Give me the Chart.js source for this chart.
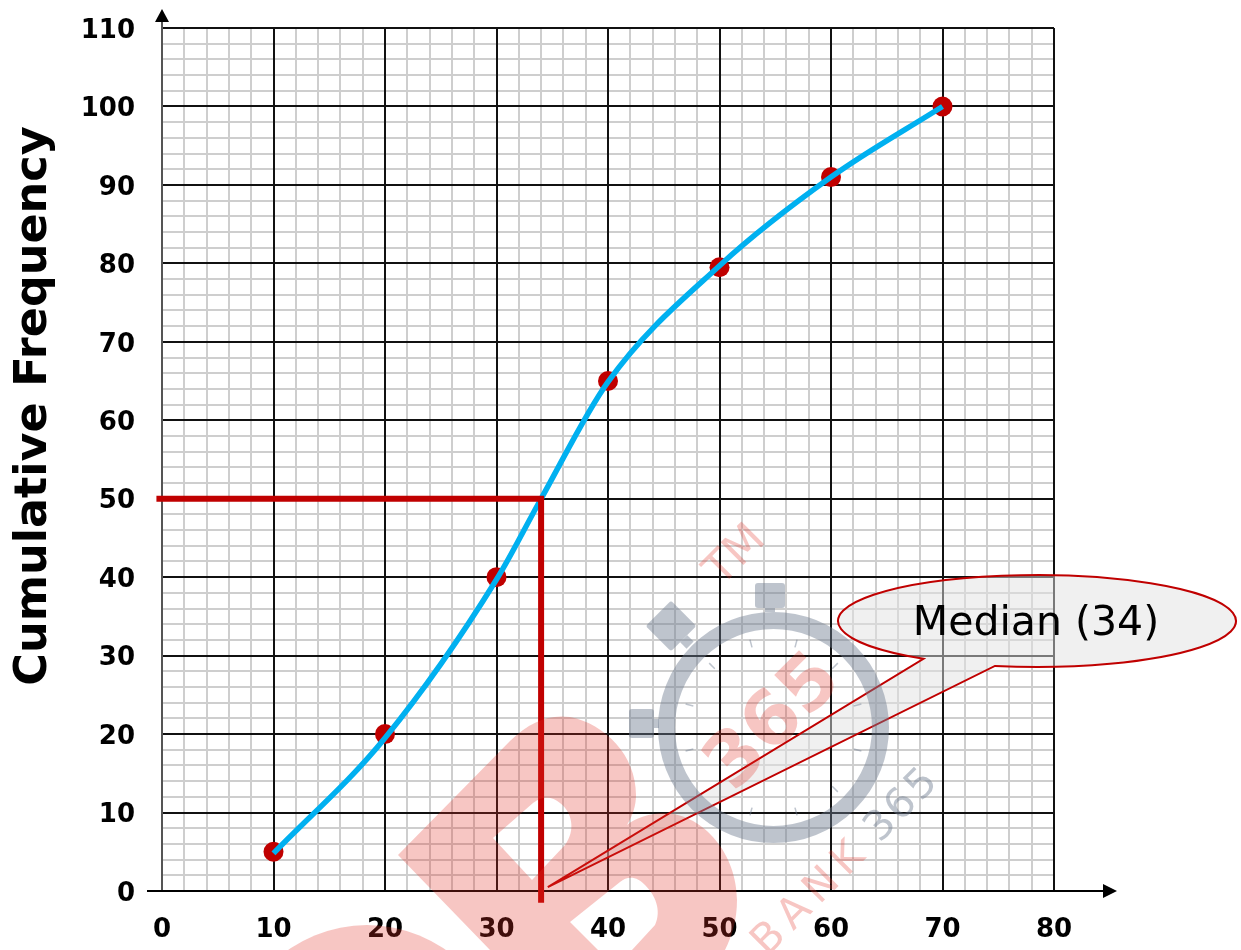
<!DOCTYPE html>
<html>
<head>
<meta charset="utf-8">
<title>Cumulative Frequency</title>
<script src="https://cdn.jsdelivr.net/npm/chart.js@4/dist/chart.umd.min.js"></script>
<style>
  html, body { margin: 0; padding: 0; background: #fff; }
  canvas { display: block; }
</style>
</head>
<body>
<canvas id="ogive" width="1241" height="950"></canvas>
<script>
var pointX = [10, 20, 30, 40, 50, 60, 70];
var pointY = [5, 20, 40, 65, 79.5, 91, 100];
var curveX = [10, 20, 30, 34, 40, 50, 60, 70];
var curveY = [4.8, 19.5, 39.7, 50, 64.9, 79.7, 91, 100];
var medianX = [-0.5, 34, 34];
var medianY = [50, 50, -1.5];
var xTickLabels = [0, 10, 20, 30, 40, 50, 60, 70, 80];
var yTickLabels = [0, 10, 20, 30, 40, 50, 60, 70, 80, 90, 100, 110];
var yAxisTitle = 'Cumulative Frequency';
var calloutText = 'Median (34)';

var FONT = '"DejaVu Sans", Verdana, sans-serif';
var RED = '#C00000';
var BLUE = '#00B0F0';

function toXY(xs, ys) {
  return xs.map(function (x, i) { return { x: x, y: ys[i] }; });
}

// axis lines with the arrow heads, plus the y title which sits above centre
var axisArrows = {
  id: 'axisArrows',
  beforeDraw: function (chart) {
    // digits sit a little high on the middle baseline
    chart.scales.y.getLabelItems().forEach(function (item) { item.textOffset = 3; });
  },
  beforeDatasetsDraw: function (chart) {
    var ctx = chart.ctx;
    var x0 = chart.scales.x.getPixelForValue(0);
    var y0 = chart.scales.y.getPixelForValue(0);
    ctx.save();
    ctx.lineWidth = 2;
    ctx.strokeStyle = '#555';
    ctx.beginPath(); ctx.moveTo(x0, y0); ctx.lineTo(x0, 20); ctx.stroke();
    ctx.strokeStyle = '#000';
    ctx.beginPath(); ctx.moveTo(147, y0); ctx.lineTo(1105, y0); ctx.stroke();
    ctx.fillStyle = '#000';
    ctx.beginPath(); ctx.moveTo(x0, 9); ctx.lineTo(x0 - 7, 22); ctx.lineTo(x0 + 7, 22); ctx.fill();
    ctx.beginPath(); ctx.moveTo(1117, y0); ctx.lineTo(1103, y0 - 7); ctx.lineTo(1103, y0 + 7); ctx.fill();

    ctx.translate(34, 406);
    ctx.rotate(-Math.PI / 2);
    ctx.font = 'bold 44.5px ' + FONT;
    ctx.textAlign = 'center';
    ctx.textBaseline = 'middle';
    ctx.fillText(yAxisTitle, 0, 0);
    ctx.restore();
  }
};

// speech bubble pointing at the median
var medianCallout = {
  id: 'medianCallout',
  afterDatasetsDraw: function (chart) {
    var ctx = chart.ctx;
    var tipX = chart.scales.x.getPixelForValue(34.6);
    var tipY = chart.scales.y.getPixelForValue(0.5);
    var cx = 1037, cy = 621, rx = 199, ry = 46;
    ctx.save();
    ctx.beginPath();
    ctx.ellipse(cx, cy, rx, ry, 0, 124.8 * Math.PI / 180, (102.2 + 360) * Math.PI / 180);
    ctx.lineTo(tipX, tipY);
    ctx.closePath();
    ctx.fillStyle = 'rgba(225,225,225,0.5)';
    ctx.fill();
    ctx.lineWidth = 2;
    ctx.strokeStyle = RED;
    ctx.stroke();
    ctx.fillStyle = '#000';
    ctx.font = '41px ' + FONT;
    ctx.textAlign = 'center';
    ctx.textBaseline = 'middle';
    ctx.fillText(calloutText, 1036, 624);
    ctx.restore();
  }
};

function rotatedText(ctx, text, x, y, font, color, spacing) {
  ctx.save();
  ctx.translate(x, y);
  ctx.rotate(-Math.PI / 4);
  ctx.font = font;
  ctx.fillStyle = color;
  ctx.textAlign = 'center';
  ctx.textBaseline = 'middle';
  ctx.letterSpacing = spacing || '0px';
  ctx.fillText(text, 0, 0);
  ctx.restore();
}

function roundSquare(ctx, x, y, w, h, r) {
  ctx.beginPath();
  ctx.roundRect(x, y, w, h, r);
  ctx.fill();
}

// faint logo laid over the whole picture
var watermark = {
  id: 'watermark',
  afterDraw: function (chart) {
    var ctx = chart.ctx;
    var pink = 'rgba(228,50,40,0.28)';
    var slate = 'rgba(110,125,145,0.45)';
    ctx.save();

    ctx.fillStyle = pink;
    ctx.beginPath();
    ctx.moveTo(398, 855);
    ctx.lineTo(510, 741);
    ctx.bezierCurveTo(530, 722, 548, 714, 570, 717);
    ctx.bezierCurveTo(605, 724, 636, 755, 636, 795);
    ctx.bezierCurveTo(636, 805, 633, 815, 627, 825);
    ctx.bezierCurveTo(635, 818, 650, 813, 665, 813);
    ctx.bezierCurveTo(705, 815, 737, 855, 737, 900);
    ctx.bezierCurveTo(737, 920, 732, 936, 725, 950);
    ctx.lineTo(632, 950);
    ctx.lineTo(655, 925);
    ctx.bezierCurveTo(662, 910, 655, 895, 645, 885);
    ctx.bezierCurveTo(638, 877, 628, 875, 620, 882);
    ctx.lineTo(570, 922);
    ctx.lineTo(598, 950);
    ctx.lineTo(490, 950);
    ctx.closePath();
    ctx.moveTo(493, 838);
    ctx.lineTo(532, 880);
    ctx.lineTo(565, 845);
    ctx.bezierCurveTo(576, 830, 572, 812, 560, 803);
    ctx.bezierCurveTo(552, 796, 542, 796, 533, 803);
    ctx.closePath();
    ctx.fill('evenodd');
    ctx.beginPath();
    ctx.arc(367, 1062, 137, 0, Math.PI * 2);
    ctx.save();
    ctx.clip();
    ctx.fillRect(220, 920, 300, 30);
    ctx.restore();

    ctx.fillStyle = slate;
    ctx.strokeStyle = slate;
    ctx.beginPath();
    ctx.lineWidth = 17;
    ctx.arc(773.5, 727.5, 107, 0, Math.PI * 2);
    ctx.stroke();
    roundSquare(ctx, 755, 583, 30, 25, 3);
    ctx.fillRect(765, 608, 10, 4);
    roundSquare(ctx, 629, 709, 25, 29, 3);
    ctx.fillRect(654, 719, 5, 9);
    ctx.save();
    ctx.translate(671, 626);
    ctx.rotate(-Math.PI / 4);
    roundSquare(ctx, -18, -18, 36, 36, 3);
    ctx.fillRect(-5, 18, 10, 9);
    ctx.restore();
    ctx.lineWidth = 1.5;
    [15, 45, 75, 105, 135, 165, 195, 255, 285, 315, 345].forEach(function (a) {
      var t = a * Math.PI / 180;
      ctx.beginPath();
      ctx.moveTo(773.5 + 83 * Math.sin(t), 727.5 - 83 * Math.cos(t));
      ctx.lineTo(773.5 + 91 * Math.sin(t), 727.5 - 91 * Math.cos(t));
      ctx.stroke();
    });

    rotatedText(ctx, '365', 775, 724, 'bold 75px ' + FONT, pink);
    rotatedText(ctx, 'TM', 736, 556, '44px ' + FONT, pink);
    rotatedText(ctx, 'BANK', 812, 897, '42px ' + FONT, pink, '8px');
    rotatedText(ctx, '365', 903, 805, '41px ' + FONT, slate, '3px');
    ctx.restore();
  }
};

new Chart(document.getElementById('ogive'), {
  type: 'line',
  data: {
    datasets: [{
      label: 'Median',
      data: toXY(medianX, medianY),
      borderColor: RED,
      borderWidth: 6,
      pointRadius: 0,
      tension: 0,
      clip: false,
      order: 0
    }, {
      label: 'Curve',
      data: toXY(curveX, curveY),
      borderColor: BLUE,
      borderWidth: 5.5,
      pointRadius: 0,
      cubicInterpolationMode: 'monotone',
      order: 1
    }, {
      label: 'Points',
      data: toXY(pointX, pointY),
      showLine: false,
      pointRadius: 10,
      pointBackgroundColor: RED,
      pointBorderColor: RED,
      pointBorderWidth: 0,
      clip: false,
      order: 2
    }]
  },
  options: {
    responsive: false,
    animation: false,
    layout: { padding: { top: 28, right: 187, left: 0, bottom: 0 } },
    plugins: { legend: { display: false }, tooltip: { enabled: false } },
    scales: {
      xMinor: {
        type: 'linear', position: 'bottom', min: 0, max: 80,
        ticks: { stepSize: 2, display: false },
        grid: { color: '#cecece', lineWidth: 2, drawTicks: false, z: -2 },
        border: { display: false },
        afterFit: function (scale) { scale.height = 0; }
      },
      yMinor: {
        type: 'linear', position: 'left', min: 0, max: 110,
        ticks: { stepSize: 2, display: false },
        grid: { color: '#cecece', lineWidth: 2, drawTicks: false, z: -2 },
        border: { display: false },
        afterFit: function (scale) { scale.width = 0; }
      },
      x: {
        type: 'linear', position: 'bottom', min: 0, max: 80,
        afterBuildTicks: function (scale) {
          scale.ticks = xTickLabels.map(function (v) { return { value: v }; });
        },
        ticks: {
          color: '#000', padding: 24, maxRotation: 0,
          font: { family: FONT, size: 26, weight: 'bold' }
        },
        grid: { color: '#111', lineWidth: 2, drawTicks: false, z: -1 },
        border: { display: false },
        afterFit: function (scale) { scale.height = 59; scale.paddingLeft = 0; scale.paddingRight = 0; }
      },
      y: {
        type: 'linear', position: 'left', min: 0, max: 110,
        afterBuildTicks: function (scale) {
          scale.ticks = yTickLabels.map(function (v) { return { value: v }; });
        },
        ticks: {
          color: '#000', padding: 27,
          font: { family: FONT, size: 26, weight: 'bold' }
        },
        grid: { color: '#111', lineWidth: 2, drawTicks: false, z: -1 },
        border: { display: false },
        afterFit: function (scale) { scale.width = 162; scale.paddingTop = 0; scale.paddingBottom = 0; }
      }
    }
  },
  plugins: [axisArrows, medianCallout, watermark]
});
</script>
</body>
</html>
